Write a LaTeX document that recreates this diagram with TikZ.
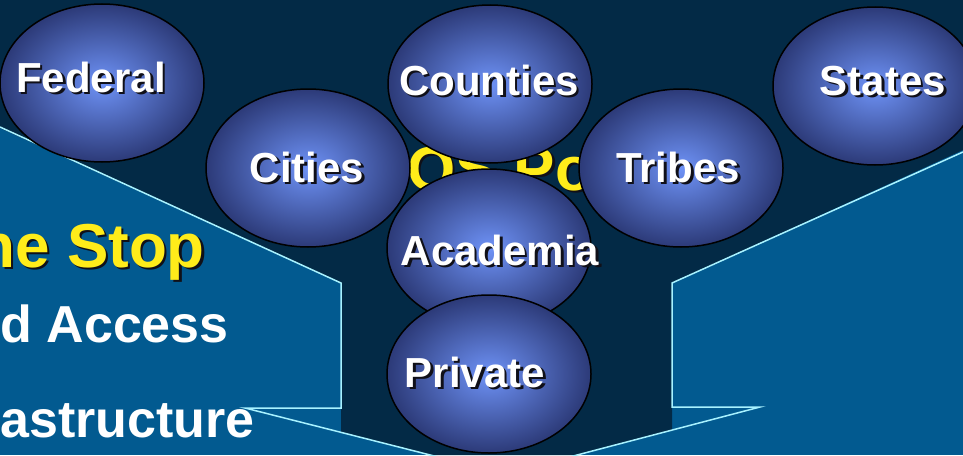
\documentclass[tikz,border=0pt]{standalone}
\usepackage{fontspec}
\setmainfont{Liberation Sans}
\usetikzlibrary{shapes.geometric}

\definecolor{navy}{HTML}{032A46}
\definecolor{panel}{HTML}{025A90}
\definecolor{funnelline}{HTML}{A8F2FF}
\definecolor{bubblelight}{HTML}{6E92F6}
\definecolor{bubbledark}{HTML}{2C3A78}
\definecolor{titleyellow}{HTML}{FFEC1A}
\definecolor{textshadow}{HTML}{101018}

\newcommand{\shadowed}[1]{\rlap{\kern2.5pt\raisebox{-2.5pt}{\color{textshadow}#1}}#1}

\begin{document}
\begin{tikzpicture}[x=1pt,y=-1pt,
    bubble/.style={ellipse, draw=black, line width=1.5pt, minimum width=204pt,
      minimum height=158pt, inner color=bubblelight, outer color=bubbledark},
    bubbletext/.style={anchor=base, inner sep=0pt, text=white,
      font=\bfseries\fontsize{42}{48}\selectfont},
    headline/.style={anchor=base, inner sep=0pt, text=titleyellow,
      font=\bfseries\fontsize{62}{70}\selectfont},
    bullettext/.style={anchor=base east, inner sep=0pt, text=white,
      font=\bfseries\fontsize{52}{60}\selectfont},
    funnel/.style={draw=funnelline, line width=1.5pt}]

    % slide background
    \useasboundingbox (0,0) rectangle (963,455);
    \clip (0,0) rectangle (963,455);
    \fill[panel] (0,0) rectangle (963,455);
    \fill[navy] (0,0) -- (963,0) -- (963,150) -- (672,283) -- (672,430) -- (577,455)
      -- (430,455) -- (341,432) -- (341,283) -- (0,128) -- cycle;

    % funnel outline
    \draw[funnel] (0,127) -- (341,283) -- (341,408) -- (245,408) -- (450,460);
    \draw[funnel] (963,152) -- (672,283) -- (672,407) -- (760,407) -- (558,460);

    % slide text
    \node[headline, anchor=base east] (onestop) at (205,267) {\shadowed{ne Stop}};
    \node[headline, anchor=base west] (portal) at (407,190) {\shadowed{OS Po}};
    \node[bullettext] (access) at (229,342) {d Access};
    \node[bullettext] (infra) at (255,437) {astructure};

    % partners
    \node[bubble] (federal) at (102,83) {};
    \node[bubble] (states) at (875,86) {};
    \node[bubble] (counties) at (490,84) {};
    \node[bubble] (academia) at (489,248) {};
    \node[bubble] (private) at (489,374) {};
    \node[bubble] (cities) at (308,168) {};
    \node[bubble] (tribes) at (681,168) {};

    \node[bubbletext] (federal text) at (91,92) {\shadowed{Federal}};
    \node[bubbletext] (states text) at (883,95) {\shadowed{States}};
    \node[bubbletext] (counties text) at (489,95) {\shadowed{Counties}};
    \node[bubbletext] (academia text) at (500,265) {\shadowed{Academia}};
    \node[bubbletext] (private text) at (475,387) {\shadowed{Private}};
    \node[bubbletext] (cities text) at (307,182) {\shadowed{Cities}};
    \node[bubbletext] (tribes text) at (678,182) {\shadowed{Tribes}};
\end{tikzpicture}
\end{document}
